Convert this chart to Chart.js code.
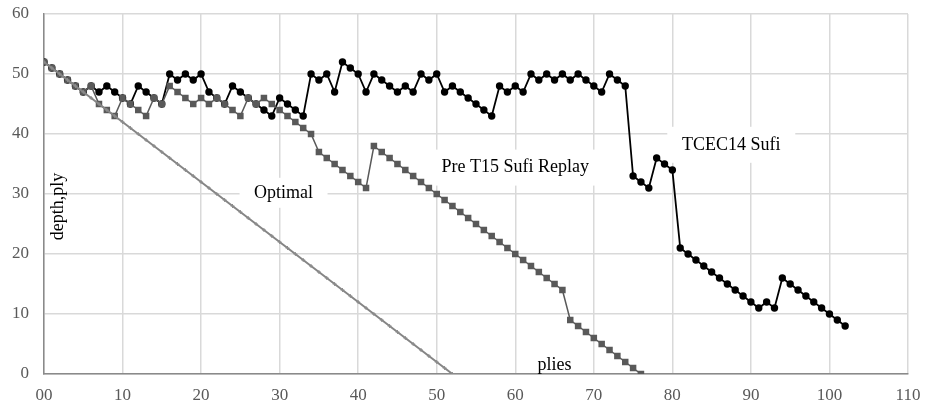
<!DOCTYPE html>
<html>
<head>
<meta charset="utf-8">
<script src="https://cdn.jsdelivr.net/npm/chart.js@4.4.1/dist/chart.umd.min.js"></script>
<style>
  html, body { margin: 0; padding: 0; background: #fff; }
  #wrap { width: 925px; height: 408px; position: relative; }
</style>
</head>
<body>
<div id="wrap"><canvas id="depthChart"></canvas></div>
<script>
// ----------------------------
// Data (depth in ply, one value per ply)
// ----------------------------
const sufiDepth = [
  52, 51, 50, 49, 48, 47, 48, 47, 48, 47, 46, 45, 48, 47, 46, 45, 50, 49, 50, 49,
  50, 47, 46, 45, 48, 47, 46, 45, 44, 43, 46, 45, 44, 43, 50, 49, 50, 47, 52, 51,
  50, 47, 50, 49, 48, 47, 48, 47, 50, 49, 50, 47, 48, 47, 46, 45, 44, 43, 48, 47,
  48, 47, 50, 49, 50, 49, 50, 49, 50, 49, 48, 47, 50, 49, 48, 33, 32, 31, 36, 35,
  34, 21, 20, 19, 18, 17, 16, 15, 14, 13, 12, 11, 12, 11, 16, 15, 14, 13, 12, 11,
  10, 9, 8
];

const replayDepth = [
  52, 51, 50, 49, 48, 47, 48, 45, 44, 43, 46, 45, 44, 43, 46, 45, 48, 47, 46, 45,
  46, 45, 46, 45, 44, 43, 46, 45, 46, 45, 44, 43, 42, 41, 40, 37, 36, 35, 34, 33,
  32, 31, 38, 37, 36, 35, 34, 33, 32, 31, 30, 29, 28, 27, 26, 25, 24, 23, 22, 21,
  20, 19, 18, 17, 16, 15, 14, 9, 8, 7, 6, 5, 4, 3, 2, 1, 0
];

const optimalDepth = [
  52, 51, 50, 49, 48, 47, 46, 45, 44, 43, 42, 41, 40, 39, 38, 37, 36, 35, 34, 33,
  32, 31, 30, 29, 28, 27, 26, 25, 24, 23, 22, 21, 20, 19, 18, 17, 16, 15, 14, 13,
  12, 11, 10, 9, 8, 7, 6, 5, 4, 3, 2, 1, 0
];

const xTicks = [0, 10, 20, 30, 40, 50, 60, 70, 80, 90, 100, 110];
const yTicks = [0, 10, 20, 30, 40, 50, 60];

// ply number = position in the array
const toPoints = arr => arr.map((d, ply) => ({ x: ply, y: d }));

// ----------------------------
// In-plot text labels
// ----------------------------
const FONT = "'Liberation Serif', 'Times New Roman', serif";

const chartLabels = {
  id: 'chartLabels',
  beforeDatasetsDraw(chart) {
    const { ctx, scales: { x, y } } = chart;
    const boxed = [
      { text: 'Optimal', px: 30.5, py: 30.2, w: 88, h: 30 },
      { text: 'Pre T15 Sufi Replay', px: 60.0, py: 34.4, w: 172, h: 36 },
      { text: 'TCEC14 Sufi', px: 87.5, py: 38.2, w: 128, h: 36 }
    ];
    ctx.save();
    ctx.font = '18px ' + FONT;
    ctx.textAlign = 'center';
    ctx.textBaseline = 'middle';
    boxed.forEach(l => {
      const cx = x.getPixelForValue(l.px);
      const cy = y.getPixelForValue(l.py);
      ctx.fillStyle = '#ffffff';
      ctx.fillRect(cx - l.w / 2, cy - l.h / 2, l.w, l.h);
      ctx.fillStyle = '#000000';
      ctx.fillText(l.text, cx, cy);
    });

    // axis captions inside the plot
    ctx.fillText('plies', x.getPixelForValue(65), y.getPixelForValue(1.4));
    ctx.translate(x.getPixelForValue(1.8), y.getPixelForValue(27.9));
    ctx.rotate(-Math.PI / 2);
    ctx.fillText('depth,ply', 0, 0);
    ctx.restore();
  }
};

// ----------------------------
// Chart
// ----------------------------
const ctx = document.getElementById('depthChart').getContext('2d');

new Chart(ctx, {
  type: 'line',
  data: {
    datasets: [
      {
        label: 'Optimal',
        data: toPoints(optimalDepth),
        borderColor: '#858585',
        borderWidth: 2,
        pointStyle: 'cross',
        pointRadius: 2,
        pointBorderWidth: 1,
        pointBorderColor: '#8c8c8c',
        pointBackgroundColor: '#8c8c8c',
        order: 0
      },
      {
        label: 'Pre T15 Sufi Replay',
        data: toPoints(replayDepth),
        borderColor: '#595959',
        borderWidth: 1.5,
        pointStyle: 'rect',
        pointRadius: 4.6,
        pointBorderWidth: 0,
        pointBackgroundColor: '#595959',
        order: 1
      },
      {
        label: 'TCEC14 Sufi',
        data: toPoints(sufiDepth),
        borderColor: '#000000',
        borderWidth: 1.8,
        pointStyle: 'circle',
        pointRadius: 3.7,
        pointBorderWidth: 0,
        pointBackgroundColor: '#000000',
        order: 2
      }
    ]
  },
  options: {
    responsive: true,
    maintainAspectRatio: false,
    animation: false,
    devicePixelRatio: 1,
    layout: { padding: { top: 14, right: 17, left: 0, bottom: 0 } },
    plugins: {
      legend: { display: false },
      tooltip: { enabled: false }
    },
    elements: { line: { tension: 0 } },
    scales: {
      x: {
        type: 'linear',
        min: 0,
        max: 110,
        afterFit: s => {
          s.height = 34;
          s.paddingLeft = 0;
          s.paddingRight = 0;
        },
        afterBuildTicks: s => { s.ticks = xTicks.map(v => ({ value: v })); },
        grid: { color: '#d9d9d9', lineWidth: 1.5, drawTicks: false },
        border: { color: '#8a8a8a', width: 1.5 },
        ticks: {
          padding: 11,
          color: '#595959',
          font: { family: FONT, size: 17 },
          callback: v => (v < 10 ? '0' + v : String(v))
        }
      },
      y: {
        type: 'linear',
        min: 0,
        max: 60,
        afterFit: s => {
          s.width = 44;
          s.paddingTop = 0;
          s.paddingBottom = 0;
        },
        afterBuildTicks: s => { s.ticks = yTicks.map(v => ({ value: v })); },
        grid: { color: '#d9d9d9', lineWidth: 1.5, drawTicks: false },
        border: { color: '#8a8a8a', width: 1.5 },
        ticks: {
          padding: 15,
          color: '#595959',
          font: { family: FONT, size: 17 }
        }
      }
    }
  },
  plugins: [chartLabels]
});
</script>
</body>
</html>
